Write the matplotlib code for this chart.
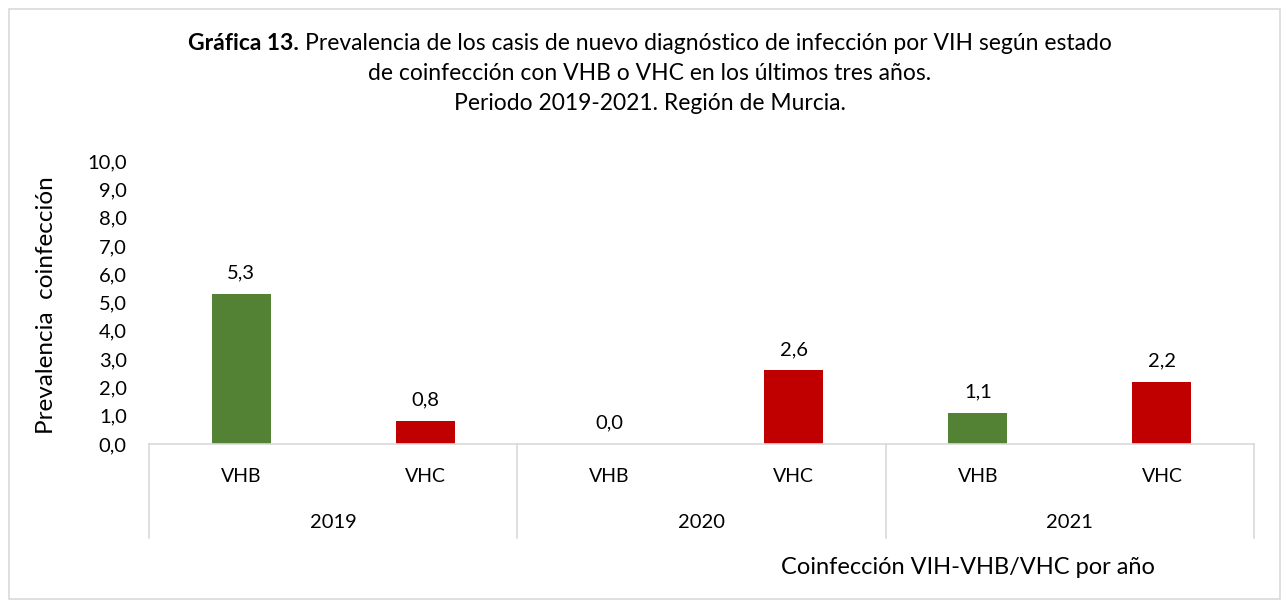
import matplotlib
matplotlib.use("Agg")
import matplotlib.pyplot as plt
from matplotlib.patches import Rectangle
from matplotlib.lines import Line2D
import matplotlib.transforms as mtransforms

plt.rcParams['font.family'] = ['Lato', 'DejaVu Sans']

years = ["2019", "2020", "2021"]
subcats = ["VHB", "VHC"]
values = [5.3, 0.8, 0.0, 2.6, 1.1, 2.2]
labels = ["5,3", "0,8", "0,0", "2,6", "1,1", "2,2"]
yticks = [0, 1, 2, 3, 4, 5, 6, 7, 8, 9, 10]
colors = {"VHB": "#548235", "VHC": "#C00000"}

W, H = 1282, 600
fig = plt.figure(figsize=(W / 100, H / 100), dpi=100)

def fx(px):
    return px / W

def fy(py):
    return 1 - py / H

# border
fig.add_artist(Rectangle((fx(9), fy(599)), fx(1271), 590 / H, transform=fig.transFigure,
                         fill=False, edgecolor="#D9D9D9", linewidth=1.2))

ax = fig.add_axes([fx(149), fy(444), fx(1254) - fx(149), (444 - 161) / H])
n = len(years) * len(subcats)
xs = list(range(n))
cats = [s for y in years for s in subcats]
bars = ax.bar(xs, values, width=0.32, color=[colors[c] for c in cats])
ax.set_xlim(-0.5, n - 0.5)
ax.set_ylim(0, 10)
ax.set_yticks(yticks)
ax.set_yticklabels([f"{t},0" for t in yticks], fontsize=14.5)
ax.tick_params(axis="y", length=0, pad=16)
ax.set_xticks([])
for s in ["top", "right", "left"]:
    ax.spines[s].set_visible(False)
ax.spines["bottom"].set_color("#D9D9D9")
ax.spines["bottom"].set_linewidth(1.2)

for x, v, l in zip(xs, values, labels):
    ax.annotate(l, (x, v), xytext=(0, 9), textcoords="offset points",
                ha="center", va="bottom", fontsize=14.5)

trans = mtransforms.blended_transform_factory(ax.transData, ax.transAxes)
depth = -(538 - 444) / (444 - 161)
for b in [-0.5, 1.5, 3.5, 5.5]:
    ax.add_line(Line2D([b, b], [0, depth], transform=trans, color="#D9D9D9",
                       linewidth=1.2, clip_on=False))
sub_y = -(477 - 444) / (444 - 161)
yr_y = -(523 - 444) / (444 - 161)
for x, c in zip(xs, cats):
    ax.text(x, sub_y, c, transform=trans, ha="center", va="center", fontsize=14)
for i, y in enumerate(years):
    ax.text(2 * i + 0.5, yr_y, y, transform=trans, ha="center", va="center", fontsize=14.5)

fig.text(fx(47), fy(305), "Prevalencia  coinfección", rotation=90, ha="center", va="center", fontsize=17.5)
fig.text(fx(968), fy(568), "Coinfección VIH-VHB/VHC por año", ha="center", va="center", fontsize=17)

# title
fs = 16.5
cx = 650
renderer = fig.canvas.get_renderer()
tb = fig.text(0, 0, "Gráfica 13. ", fontsize=fs, fontweight="bold", ha="left", va="center")
tn = fig.text(0, 0, "Prevalencia de los casis de nuevo diagnóstico de infección por VIH según estado",
              fontsize=fs, ha="left", va="center")
wb = tb.get_window_extent(renderer).width
wn = tn.get_window_extent(renderer).width
x0 = cx - (wb + wn) / 2
tb.set_position((fx(x0), fy(44)))
tn.set_position((fx(x0 + wb), fy(44)))
fig.text(fx(cx), fy(74), "de coinfección con VHB o VHC en los últimos tres años.", fontsize=fs, ha="center", va="center")
fig.text(fx(cx), fy(104), "Periodo 2019-2021. Región de Murcia.", fontsize=fs, ha="center", va="center")

fig.savefig("out.png", dpi=100)
